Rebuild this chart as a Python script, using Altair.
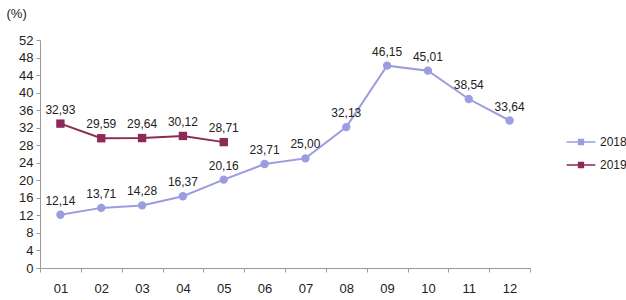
import altair as alt
import pandas as pd

months = ["01", "02", "03", "04", "05", "06", "07", "08", "09", "10", "11", "12"]
v2018 = [12.14, 13.71, 14.28, 16.37, 20.16, 23.71, 25.00, 32.13, 46.15, 45.01, 38.54, 33.64]
months2019 = ["01", "02", "03", "04", "05"]
v2019 = [32.93, 29.59, 29.64, 30.12, 28.71]
years = ["2018", "2019"]
colors = ["#9c9ce0", "#8c2a58"]
y_ticks = list(range(0, 53, 4))

rows = [{"m": m, "v": v, "year": "2018"} for m, v in zip(months, v2018)]
rows += [{"m": m, "v": v, "year": "2019"} for m, v in zip(months2019, v2019)]
df = pd.DataFrame(rows)

FONT = "Liberation Sans"

x = alt.X("m:N", sort=months, scale=alt.Scale(domain=months, paddingInner=0, paddingOuter=0),
          axis=alt.Axis(title=None, labelAngle=0, tickBand="extent", labelFontSize=13,
                        labelPadding=10, tickSize=4, labelColor="#222", domainColor="#9a9a9a",
                        tickColor="#9a9a9a", grid=False))
y = alt.Y("v:Q", scale=alt.Scale(domain=[0, 52], nice=False, zero=True),
          axis=alt.Axis(values=y_ticks, title="(%)", titleAngle=0, titleX=-34, titleY=-20,
                        titleAlign="left", titleFontWeight="normal", titleFontSize=13,
                        titleColor="#222", labelFontSize=13, labelColor="#222", labelPadding=3,
                        tickSize=4, domainColor="#9a9a9a", tickColor="#9a9a9a", grid=False))
color_scale = alt.Scale(domain=years, range=colors)

line = alt.Chart(df).mark_line(strokeWidth=2).encode(
    x=x, y=y, detail="year:N",
    color=alt.Color("year:N", scale=color_scale,
                    legend=alt.Legend(title=None, orient="none", legendX=528, legendY=89,
                                      symbolType="M -1.2 0 L 1.2 0 M -0.2 -0.2 L 0.2 -0.2 L 0.2 0.2 L -0.2 0.2 Z",
                                      symbolSize=576, symbolStrokeWidth=1.5, labelOffset=6,
                                      labelFontSize=12, labelColor="#222", rowPadding=4)),
)

pts18 = alt.Chart(df).transform_filter("datum.year == '2018'").mark_point(
    filled=True, opacity=1, size=70, shape="circle").encode(
    x=x, y=y, color=alt.Color("year:N", scale=color_scale, legend=None),
)
pts19 = alt.Chart(df).transform_filter("datum.year == '2019'").mark_point(
    filled=True, opacity=1, size=70, shape="square").encode(
    x=x, y=y, color=alt.Color("year:N", scale=color_scale, legend=None),
)

labels = alt.Chart(df).transform_calculate(
    lab="replace(format(datum.v, '.2f'), '.', ',')"
).mark_text(dy=-14, fontSize=12, color="#222", font=FONT).encode(
    x=x, y=y, text="lab:N"
)

chart = alt.layer(line, pts18, pts19, labels).properties(
    width=490, height=228,
    autosize=alt.AutoSizeParams(type="none"),
    padding={"left": 40, "top": 40, "right": 96, "bottom": 32},
).configure(font=FONT).configure_view(stroke=None)

chart.save("out.html", embed_options={"renderer": "svg", "actions": False})
